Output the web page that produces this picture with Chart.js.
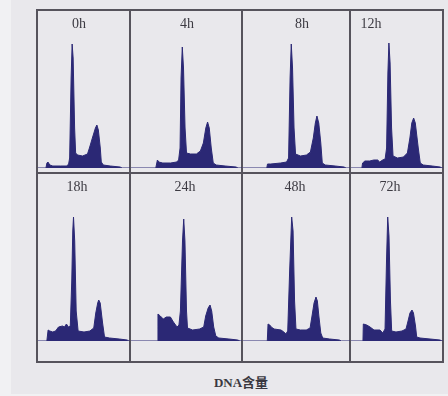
<!DOCTYPE html>
<html>
<head>
<meta charset="utf-8">
<script src="https://cdn.jsdelivr.net/npm/chart.js@4"></script>
<style>
  html, body { margin: 0; padding: 0; }
  body { width: 448px; height: 396px; background: #f1f1f3; position: relative; overflow: hidden; }
  #paper { position: absolute; left: 11px; top: 0; width: 437px; height: 394px; background: #e9e8ec; }
  .line { position: absolute; background: #56535c; }
  .panel { position: absolute; }
  .tag { position: absolute; font-family: "Liberation Serif", "DejaVu Serif", serif; font-size: 14px; color: #3c3a42; transform: translateX(-50%); line-height: 14px; }
  #xlabel { position: absolute; left: 241px; top: 372px; transform: translateX(-50%); font-family: "Liberation Serif", "Noto Sans CJK SC", serif; font-weight: bold; font-size: 13px; color: #3a3840; white-space: nowrap; }
</style>
</head>
<body>
<div id="paper"></div>
<div id="xlabel">DNA含量</div>

<script>
// time points (panel titles)
const times = ["0h", "4h", "8h", "12h", "18h", "24h", "48h", "72h"];

// DNA histograms: [channel (0-100), cell count]
const h0 = [[0,0],[8.6,0],[9.7,10],[10.8,12],[12.9,6],[16.1,4],[24.7,4],[31.2,4],[33.3,8],[34.4,20],[36.0,180],[37.1,248],[38.2,220],[39.8,80],[40.9,30],[43.0,26],[48.4,24],[53.8,28],[55.9,40],[59.1,60],[62.4,80],[64.0,86],[65.6,76],[67.7,40],[68.8,12],[71.0,6],[78.5,4],[89.2,2],[91.4,0],[100,0]];
const h4 = [[0,0],[22.3,0],[23.8,16],[25.0,12],[28.6,10],[35.7,10],[41.1,12],[42.9,16],[44.2,40],[45.1,180],[46.2,242],[47.3,200],[48.7,80],[50.0,30],[53.6,28],[58.9,28],[62.5,34],[65.2,50],[67.4,80],[69.0,92],[70.5,80],[72.3,40],[74.1,10],[76.8,6],[84.8,4],[94.6,2],[96.4,0],[100,0]];
const h8 = [[0,0],[22.2,0],[22.9,8],[25.9,8],[35.2,10],[40.7,12],[42.6,20],[44.0,180],[45.1,248],[46.3,200],[47.7,80],[49.1,28],[53.7,24],[59.3,26],[63.0,32],[65.7,60],[67.6,90],[69.1,104],[70.8,90],[72.7,50],[74.1,10],[76.9,6],[86.1,4],[94.4,2],[96.3,0],[100,0]];
const h12 = [[0,0],[11.8,0],[12.6,10],[15.1,14],[20.4,14],[24.7,16],[29.0,16],[31.2,12],[34.4,16],[37.1,18],[38.7,40],[40.1,190],[41.2,250],[42.5,210],[44.1,80],[45.7,24],[50.5,20],[57.0,22],[61.3,30],[64.0,60],[66.1,90],[68.1,100],[69.9,90],[73.1,40],[75.3,10],[78.5,6],[88.2,4],[96.8,2],[98.9,0],[100,0]];
const h18 = [[0,0],[9.6,0],[11.0,22],[12.8,20],[16.0,18],[19.1,20],[22.3,28],[26.6,30],[28.7,28],[30.9,34],[33.0,28],[35.1,30],[36.7,120],[37.8,220],[38.6,248],[39.9,200],[41.5,60],[43.6,20],[50.0,18],[56.4,20],[60.6,26],[62.8,56],[64.9,76],[66.0,82],[67.6,76],[70.2,36],[72.3,8],[77.7,6],[88.3,4],[96.8,2],[98.9,0],[100,0]];
const h24 = [[0,0],[23.6,0],[24.3,54],[26.4,50],[29.1,44],[31.8,48],[35.5,48],[38.2,38],[41.5,28],[43.2,32],[44.5,60],[46.4,200],[47.5,244],[48.6,200],[50.0,60],[50.9,26],[55.5,22],[61.8,24],[65.5,28],[67.3,50],[69.5,66],[71.2,72],[72.7,60],[74.5,28],[76.4,10],[79.1,6],[88.2,4],[96.1,2],[98.2,0],[100,0]];
const h48 = [[0,0],[22.7,0],[23.4,34],[25.0,32],[26.4,28],[29.1,24],[35.5,22],[38.2,18],[40.0,14],[41.8,20],[43.6,140],[45.5,248],[46.8,220],[48.2,80],[49.5,24],[53.6,22],[59.1,22],[62.7,26],[64.5,50],[66.4,76],[68.2,88],[69.5,80],[70.9,50],[72.7,16],[74.5,6],[80.9,4],[90.0,2],[91.8,0],[100,0]];
const h72 = [[0,0],[13.0,0],[13.4,34],[17.1,32],[20.7,28],[25.0,22],[31.5,22],[34.5,16],[37.0,24],[38.6,160],[39.9,248],[41.3,210],[42.9,80],[44.2,20],[48.9,18],[55.4,20],[59.8,24],[62.0,40],[64.1,56],[66.3,62],[67.9,56],[70.1,30],[71.4,8],[75.0,6],[85.9,4],[96.7,2],[98.9,0],[100,0]];

const histos = [h0, h4, h8, h12, h18, h24, h48, h72];

// panel geometry
const colLeft = [37, 130, 242, 350, 443];
const rowTop = [11, 175];
const rowBase = [168, 341];
const rowMax = [314, 332];
const tagX = [79, 187, 302, 371, 77, 185, 295, 390];
const tagY = [17, 180];

const fillColor = "#2b2875";

// frame lines
function addLine(x, y, w, h) {
    const d = document.createElement("div");
    d.className = "line";
    d.style.left = x + "px";
    d.style.top = y + "px";
    d.style.width = w + "px";
    d.style.height = h + "px";
    document.body.appendChild(d);
}
addLine(36, 9, 408, 2);
addLine(36, 172, 408, 2);
addLine(36, 361, 408, 2);
addLine(36, 9, 2, 354);
addLine(442, 9, 2, 354);
addLine(129, 9, 2, 354);
addLine(241, 9, 2, 354);
addLine(349, 9, 2, 354);

histos.forEach(function (hist, i) {

    const row = Math.floor(i / 4);
    const col = i % 4;

    const left = colLeft[col] + 1;
    const width = colLeft[col + 1] - colLeft[col] - 1;
    const top = rowTop[row];
    const height = rowBase[row] - rowTop[row] + 1;

    const box = document.createElement("div");
    box.className = "panel";
    box.style.left = left + "px";
    box.style.top = top + "px";
    box.style.width = width + "px";
    box.style.height = height + "px";
    const cv = document.createElement("canvas");
    box.appendChild(cv);
    document.body.appendChild(box);

    const tag = document.createElement("div");
    tag.className = "tag";
    tag.textContent = times[i];
    tag.style.left = tagX[i] + "px";
    tag.style.top = tagY[row] + "px";
    document.body.appendChild(tag);

    new Chart(cv, {

        type: "line",

        data: {
            datasets: [{
                label: times[i],
                data: hist,
                fill: "origin",
                backgroundColor: fillColor,
                borderColor: fillColor,
                borderWidth: 1,
                pointRadius: 0,
                tension: 0
            }]
        },

        options: {
            responsive: true,
            maintainAspectRatio: false,
            animation: false,
            layout: {
                padding: { top: 0, bottom: 1, left: 0, right: 0 }
            },
            scales: {
                x: { type: "linear", min: 0, max: 100, display: false },
                y: { min: 0, max: rowMax[row], display: false }
            },
            plugins: {
                legend: { display: false },
                tooltip: { enabled: false }
            }
        }

    });

});
</script>
</body>
</html>
